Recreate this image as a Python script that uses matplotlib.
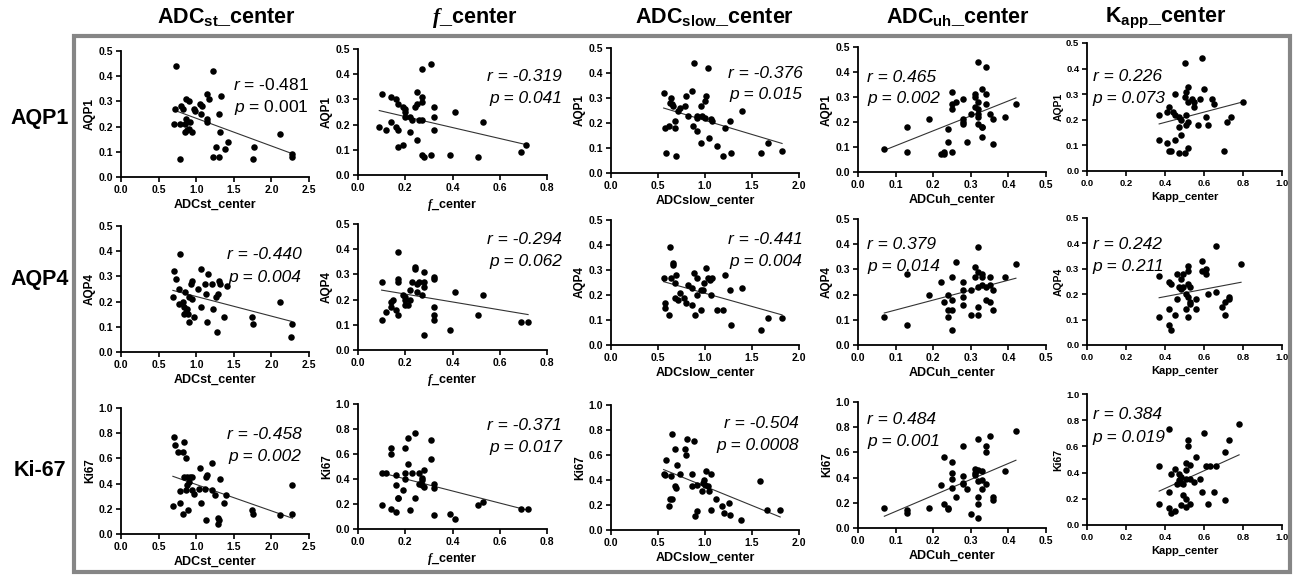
import matplotlib
matplotlib.use("Agg")
import matplotlib.pyplot as plt
import numpy as np
from matplotlib.patches import Rectangle

plt.rcParams['font.family'] = ['Liberation Sans Narrow', 'Liberation Sans', 'DejaVu Sans']
plt.rcParams['mathtext.fontset'] = 'custom'
plt.rcParams['mathtext.rm'] = 'Liberation Sans:bold'
plt.rcParams['mathtext.it'] = 'Liberation Serif:italic:bold'
plt.rcParams['mathtext.sf'] = 'Liberation Sans:italic'

# ---- data ----
row_names = ['AQP1', 'AQP4', 'Ki67']
row_titles = ['AQP1', 'AQP4', 'Ki-67']

r_vals = [['-0.481', '-0.319', '-0.376', '0.465', '0.226'],
          ['-0.440', '-0.294', '-0.441', '0.379', '0.242'],
          ['-0.458', '-0.371', '-0.504', '0.484', '0.384']]
p_vals = [['0.001', '0.041', '0.015', '0.002', '0.073'],
          ['0.004', '0.062', '0.004', '0.014', '0.211'],
          ['0.002', '0.017', '0.0008', '0.001', '0.019']]

# ADCst_center
adcst_aqp1_x = [0.73, 1.23, 0.72, 0.80, 0.83, 0.87, 0.91, 0.98, 0.97, 1.05, 1.08, 1.14, 1.17, 1.33, 1.30, 1.06, 1.14, 1.14, 0.71, 0.78,
                0.85, 0.86, 0.92, 0.85, 0.90, 0.95, 0.88, 1.31, 1.26, 1.42, 1.38, 1.23, 1.30, 0.78, 1.77, 1.75, 2.12, 2.28, 2.27]
adcst_aqp1_y = [0.44, 0.42, 0.27, 0.28, 0.27, 0.31, 0.30, 0.26, 0.27, 0.29, 0.28, 0.33, 0.31, 0.32, 0.25, 0.25, 0.23, 0.22, 0.21, 0.21,
                0.21, 0.23, 0.22, 0.18, 0.19, 0.18, 0.185, 0.18, 0.12, 0.14, 0.11, 0.08, 0.08, 0.07, 0.12, 0.07, 0.17, 0.09, 0.08]
adcst_aqp4_x = [0.78, 0.70, 0.73, 0.69, 0.77, 0.77, 0.83, 0.85, 0.84, 0.86, 0.84, 0.88, 0.89, 0.91, 0.95, 0.93, 0.95, 0.90, 0.97, 1.03,
                1.07, 1.06, 1.12, 1.16, 1.13, 1.14, 1.21, 1.22, 1.26, 1.29, 1.30, 1.32, 1.41, 1.37, 1.28, 1.74, 1.76, 2.11, 2.27, 2.26]
adcst_aqp4_y = [0.39, 0.32, 0.29, 0.22, 0.25, 0.19, 0.20, 0.24, 0.18, 0.16, 0.15, 0.17, 0.15, 0.22, 0.21, 0.27, 0.28, 0.12, 0.14, 0.25,
                0.33, 0.18, 0.27, 0.31, 0.23, 0.12, 0.27, 0.17, 0.22, 0.23, 0.28, 0.27, 0.26, 0.14, 0.08, 0.14, 0.11, 0.20, 0.11, 0.06]
adcst_ki67_x = [0.70, 0.72, 0.76, 0.82, 0.84, 0.86, 0.84, 0.88, 0.92, 0.95, 0.90, 0.88, 0.87, 0.78, 0.94, 0.97, 1.04, 1.05, 1.13, 1.15,
                1.21, 1.32, 1.12, 1.21, 1.25, 1.40, 1.37, 1.07, 0.69, 0.78, 0.89, 0.83, 1.13, 1.29, 1.30, 1.29, 1.74, 1.76, 2.11, 2.27, 2.28]
adcst_ki67_y = [0.77, 0.71, 0.65, 0.65, 0.73, 0.60, 0.45, 0.45, 0.45, 0.45, 0.41, 0.39, 0.35, 0.34, 0.35, 0.32, 0.36, 0.52, 0.45, 0.47,
                0.56, 0.44, 0.36, 0.35, 0.31, 0.31, 0.25, 0.25, 0.22, 0.25, 0.19, 0.16, 0.11, 0.13, 0.11, 0.08, 0.19, 0.16, 0.15, 0.39, 0.16]

# f_center
f_aqp1_x = [0.31, 0.27, 0.10, 0.14, 0.16, 0.17, 0.19, 0.20, 0.20, 0.25, 0.24, 0.25, 0.27, 0.27, 0.32, 0.41, 0.20, 0.22, 0.23, 0.26,
            0.27, 0.32, 0.09, 0.12, 0.16, 0.17, 0.14, 0.22, 0.32, 0.53, 0.25, 0.19, 0.17, 0.27, 0.28, 0.31, 0.39, 0.51, 0.69, 0.71]
f_aqp1_y = [0.44, 0.42, 0.32, 0.31, 0.30, 0.28, 0.27, 0.26, 0.25, 0.28, 0.27, 0.33, 0.31, 0.29, 0.27, 0.25, 0.23, 0.23, 0.22, 0.22,
            0.22, 0.23, 0.19, 0.18, 0.19, 0.18, 0.21, 0.17, 0.18, 0.21, 0.14, 0.12, 0.11, 0.08, 0.07, 0.08, 0.08, 0.07, 0.09, 0.12]
f_aqp4_x = [0.17, 0.24, 0.24, 0.28, 0.32, 0.32, 0.17, 0.17, 0.10, 0.23, 0.26, 0.28, 0.25, 0.28, 0.22, 0.25, 0.27, 0.41, 0.53, 0.19,
            0.20, 0.20, 0.20, 0.22, 0.15, 0.14, 0.16, 0.12, 0.14, 0.17, 0.10, 0.32, 0.32, 0.32, 0.51, 0.39, 0.28, 0.69, 0.72, 0.21]
f_aqp4_y = [0.39, 0.33, 0.32, 0.31, 0.29, 0.28, 0.28, 0.27, 0.27, 0.27, 0.27, 0.27, 0.26, 0.25, 0.24, 0.23, 0.22, 0.23, 0.22, 0.22,
            0.21, 0.20, 0.18, 0.20, 0.20, 0.19, 0.16, 0.15, 0.17, 0.14, 0.12, 0.17, 0.14, 0.12, 0.14, 0.08, 0.06, 0.11, 0.11, 0.18]
f_ki67_x = [0.24, 0.21, 0.31, 0.14, 0.14, 0.20, 0.31, 0.21, 0.10, 0.12, 0.16, 0.20, 0.23, 0.26, 0.28, 0.20, 0.27, 0.27, 0.26, 0.27,
            0.28, 0.32, 0.32, 0.16, 0.19, 0.17, 0.17, 0.24, 0.10, 0.14, 0.16, 0.22, 0.32, 0.39, 0.41, 0.51, 0.53, 0.69, 0.72]
f_ki67_y = [0.77, 0.73, 0.71, 0.65, 0.60, 0.65, 0.56, 0.52, 0.45, 0.45, 0.43, 0.45, 0.45, 0.45, 0.47, 0.40, 0.41, 0.39, 0.36, 0.35,
            0.34, 0.36, 0.33, 0.35, 0.31, 0.25, 0.25, 0.25, 0.19, 0.16, 0.14, 0.15, 0.11, 0.12, 0.08, 0.19, 0.22, 0.16, 0.16]

# ADCslow_center
slow_aqp1_x = [0.88, 1.03, 0.56, 0.64, 0.63, 0.65, 0.66, 0.71, 0.73, 0.80, 0.86, 0.79, 0.82, 0.91, 0.92, 0.96, 1.00, 1.01, 0.97, 1.00,
               1.06, 1.07, 0.57, 0.62, 0.68, 0.68, 0.87, 0.92, 1.27, 1.21, 1.39, 0.96, 1.04, 1.13, 0.58, 0.69, 1.19, 1.28, 1.60, 1.67, 1.82]
slow_aqp1_y = [0.44, 0.42, 0.32, 0.30, 0.28, 0.275, 0.27, 0.25, 0.26, 0.31, 0.33, 0.27, 0.23, 0.23, 0.22, 0.27, 0.29, 0.31, 0.23, 0.22,
               0.215, 0.21, 0.18, 0.19, 0.21, 0.18, 0.19, 0.17, 0.21, 0.18, 0.25, 0.12, 0.14, 0.11, 0.08, 0.07, 0.07, 0.08, 0.08, 0.12, 0.09]
slow_aqp4_x = [0.63, 0.66, 0.66, 0.56, 0.64, 0.69, 0.68, 0.57, 0.57, 0.62, 0.68, 0.71, 0.73, 0.78, 0.80, 0.82, 0.86, 0.88, 0.91, 0.86,
               0.92, 0.89, 0.96, 0.98, 0.99, 1.01, 1.03, 1.05, 1.07, 1.06, 0.96, 1.13, 1.19, 1.21, 1.27, 1.39, 1.28, 1.60, 1.67, 1.82]
slow_aqp4_y = [0.39, 0.33, 0.32, 0.27, 0.27, 0.28, 0.25, 0.17, 0.15, 0.12, 0.19, 0.18, 0.21, 0.19, 0.17, 0.24, 0.23, 0.29, 0.27, 0.16,
               0.20, 0.12, 0.22, 0.22, 0.25, 0.31, 0.27, 0.26, 0.27, 0.20, 0.14, 0.14, 0.14, 0.28, 0.22, 0.23, 0.08, 0.06, 0.11, 0.11]
slow_ki67_x = [0.65, 0.81, 0.88, 0.68, 0.79, 0.80, 0.58, 0.70, 0.56, 0.57, 0.73, 0.64, 0.86, 0.68, 0.69, 0.86, 0.91, 0.97, 0.98, 0.99,
               1.01, 1.06, 1.00, 1.03, 1.04, 0.63, 0.65, 0.62, 1.12, 1.18, 1.26, 0.91, 0.89, 1.06, 1.20, 1.27, 1.38, 1.59, 1.66, 1.80]
slow_ki67_y = [0.77, 0.73, 0.71, 0.65, 0.65, 0.60, 0.56, 0.52, 0.45, 0.44, 0.45, 0.43, 0.45, 0.35, 0.34, 0.35, 0.36, 0.31, 0.38, 0.40,
               0.47, 0.45, 0.36, 0.35, 0.31, 0.25, 0.25, 0.19, 0.25, 0.19, 0.22, 0.15, 0.11, 0.16, 0.14, 0.12, 0.08, 0.39, 0.16, 0.16]

# ADCuh_center
uh_aqp1_x = [0.32, 0.34, 0.07, 0.13, 0.13, 0.19, 0.22, 0.23, 0.23, 0.25, 0.24, 0.24, 0.25, 0.25, 0.25, 0.26, 0.28, 0.28, 0.28, 0.28,
             0.29, 0.30, 0.31, 0.31, 0.31, 0.32, 0.32, 0.32, 0.32, 0.32, 0.33, 0.33, 0.33, 0.33, 0.34, 0.34, 0.35, 0.36, 0.36, 0.39, 0.42]
uh_aqp1_y = [0.44, 0.42, 0.09, 0.18, 0.08, 0.21, 0.07, 0.07, 0.08, 0.08, 0.12, 0.17, 0.25, 0.27, 0.32, 0.28, 0.29, 0.21, 0.20, 0.19,
             0.12, 0.23, 0.31, 0.30, 0.26, 0.25, 0.28, 0.23, 0.22, 0.19, 0.18, 0.18, 0.14, 0.33, 0.31, 0.27, 0.23, 0.21, 0.11, 0.22, 0.27]
uh_aqp4_x = [0.07, 0.13, 0.13, 0.19, 0.22, 0.24, 0.24, 0.24, 0.25, 0.25, 0.25, 0.25, 0.23, 0.26, 0.28, 0.28, 0.28, 0.28, 0.30, 0.30,
             0.31, 0.31, 0.32, 0.32, 0.32, 0.32, 0.32, 0.33, 0.33, 0.33, 0.34, 0.34, 0.35, 0.35, 0.36, 0.36, 0.39, 0.42, 0.35]
uh_aqp4_y = [0.11, 0.28, 0.08, 0.20, 0.25, 0.14, 0.11, 0.20, 0.27, 0.18, 0.14, 0.06, 0.17, 0.33, 0.25, 0.22, 0.19, 0.16, 0.22, 0.12,
             0.31, 0.27, 0.39, 0.29, 0.23, 0.15, 0.12, 0.28, 0.24, 0.27, 0.18, 0.23, 0.17, 0.24, 0.22, 0.14, 0.27, 0.32, 0.27]
uh_ki67_x = [0.07, 0.13, 0.13, 0.19, 0.22, 0.23, 0.23, 0.24, 0.24, 0.25, 0.25, 0.25, 0.25, 0.26, 0.28, 0.28, 0.28, 0.28, 0.29, 0.30,
             0.31, 0.31, 0.31, 0.32, 0.32, 0.32, 0.32, 0.32, 0.32, 0.33, 0.33, 0.33, 0.34, 0.34, 0.34, 0.35, 0.36, 0.36, 0.39, 0.42]
uh_ki67_y = [0.16, 0.14, 0.12, 0.16, 0.34, 0.56, 0.19, 0.16, 0.15, 0.52, 0.44, 0.39, 0.32, 0.25, 0.65, 0.41, 0.36, 0.35, 0.31, 0.11,
             0.47, 0.44, 0.42, 0.71, 0.37, 0.25, 0.19, 0.08, 0.46, 0.38, 0.45, 0.31, 0.35, 0.65, 0.60, 0.73, 0.25, 0.22, 0.45, 0.77]

# Kapp_center
kapp_aqp1_x = [0.59, 0.50, 0.60, 0.52, 0.51, 0.45, 0.50, 0.54, 0.52, 0.58, 0.55, 0.55, 0.64, 0.65, 0.80, 0.42, 0.41, 0.44, 0.45, 0.37,
               0.47, 0.48, 0.51, 0.61, 0.72, 0.74, 0.51, 0.52, 0.57, 0.62, 0.47, 0.48, 0.37, 0.41, 0.45, 0.42, 0.43, 0.47, 0.50, 0.52, 0.70]
kapp_aqp1_y = [0.44, 0.42, 0.32, 0.33, 0.31, 0.30, 0.29, 0.28, 0.27, 0.28, 0.27, 0.25, 0.28, 0.26, 0.27, 0.25, 0.23, 0.23, 0.22, 0.22,
               0.21, 0.20, 0.22, 0.21, 0.19, 0.21, 0.18, 0.19, 0.18, 0.18, 0.17, 0.14, 0.12, 0.11, 0.12, 0.08, 0.08, 0.07, 0.07, 0.09, 0.08]
kapp_aqp4_x = [0.66, 0.37, 0.42, 0.43, 0.46, 0.48, 0.49, 0.52, 0.52, 0.59, 0.59, 0.61, 0.61, 0.79, 0.47, 0.49, 0.52, 0.53, 0.51, 0.46,
               0.52, 0.53, 0.53, 0.52, 0.56, 0.62, 0.66, 0.69, 0.73, 0.71, 0.71, 0.56, 0.51, 0.48, 0.42, 0.45, 0.37, 0.42, 0.43, 0.73]
kapp_aqp4_y = [0.39, 0.27, 0.25, 0.24, 0.28, 0.26, 0.28, 0.31, 0.29, 0.33, 0.29, 0.30, 0.28, 0.32, 0.23, 0.23, 0.24, 0.23, 0.20, 0.18,
               0.19, 0.17, 0.16, 0.11, 0.18, 0.20, 0.21, 0.15, 0.18, 0.17, 0.12, 0.14, 0.14, 0.22, 0.14, 0.12, 0.11, 0.08, 0.06, 0.19]
kapp_ki67_x = [0.78, 0.73, 0.71, 0.60, 0.42, 0.52, 0.52, 0.56, 0.37, 0.45, 0.51, 0.53, 0.51, 0.61, 0.63, 0.66, 0.43, 0.47, 0.48, 0.47,
               0.48, 0.46, 0.49, 0.51, 0.53, 0.55, 0.58, 0.59, 0.65, 0.42, 0.37, 0.42, 0.43, 0.45, 0.48, 0.49, 0.51, 0.51, 0.53, 0.62, 0.71]
kapp_ki67_y = [0.77, 0.65, 0.56, 0.70, 0.73, 0.65, 0.60, 0.52, 0.45, 0.43, 0.47, 0.46, 0.42, 0.45, 0.45, 0.45, 0.39, 0.39, 0.37, 0.34,
               0.32, 0.31, 0.31, 0.35, 0.35, 0.33, 0.35, 0.25, 0.25, 0.25, 0.16, 0.13, 0.09, 0.11, 0.15, 0.23, 0.20, 0.14, 0.16, 0.16, 0.19]

xs = [[adcst_aqp1_x, f_aqp1_x, slow_aqp1_x, uh_aqp1_x, kapp_aqp1_x],
      [adcst_aqp4_x, f_aqp4_x, slow_aqp4_x, uh_aqp4_x, kapp_aqp4_x],
      [adcst_ki67_x, f_ki67_x, slow_ki67_x, uh_ki67_x, kapp_ki67_x]]
ys = [[adcst_aqp1_y, f_aqp1_y, slow_aqp1_y, uh_aqp1_y, kapp_aqp1_y],
      [adcst_aqp4_y, f_aqp4_y, slow_aqp4_y, uh_aqp4_y, kapp_aqp4_y],
      [adcst_ki67_y, f_ki67_y, slow_ki67_y, uh_ki67_y, kapp_ki67_y]]

# axis ranges / ticks per column and row
x_max = [2.5, 0.8, 2.0, 0.5, 1.0]
x_step = [0.5, 0.2, 0.5, 0.1, 0.2]
y_max = [0.5, 0.5, 1.0]
y_step = [0.1, 0.1, 0.2]

# ---- layout (pixels of the 1295x577 picture) ----
W, H = 1295, 577
fig = plt.figure(figsize=(W / 100, H / 100), dpi=100)

col_left = [121, 358, 611, 858, 1087]
col_w = [188, 189, 188, 188, 195]
# (top, bottom) of every panel, in pixels from the top
panel_tb = [[(51, 177), (49, 175), (48, 173), (47, 172), (43, 171)],
            [(226, 352), (224, 350), (220, 345), (219, 345), (218, 345)],
            [(408, 534), (404, 529), (405, 530), (402, 528), (394, 525)]]

# where the r/p text goes (axes fraction), and alignment
txt_pos = [[(1.0, 0.73, 'right'), (1.08, 0.78, 'right'), (1.02, 0.80, 'right'), (0.05, 0.76, 'left'), (0.03, 0.74, 'left')],
           [(0.96, 0.77, 'right'), (1.08, 0.88, 'right'), (1.02, 0.84, 'right'), (0.05, 0.80, 'left'), (0.03, 0.79, 'left')],
           [(0.96, 0.79, 'right'), (1.08, 0.83, 'right'), (1.0, 0.85, 'right'), (0.05, 0.86, 'left'), (0.03, 0.84, 'left')]]

xlabels = ['ADCst_center', r'$\mathit{f}$_center', 'ADCslow_center', 'ADCuh_center', 'Kapp_center']
txt_family = ['Liberation Sans', 'DejaVu Sans']

for i in range(3):
    for j in range(5):
        top, bot = panel_tb[i][j]
        ax = fig.add_axes([col_left[j] / W, 1 - bot / H, col_w[j] / W, (bot - top) / H])
        x = np.array(xs[i][j])
        y = np.array(ys[i][j])
        ax.scatter(x, y, s=22, color='black', zorder=3, linewidths=0)
        k, b = np.polyfit(x, y, 1)
        xx = np.array([x.min(), x.max()])
        ax.plot(xx, k * xx + b, color='#333333', lw=0.8, zorder=2)

        small = (j == 4)
        tfs = 6.8 if small else 7.5
        ax.set_xlim(0, x_max[j])
        ax.set_ylim(0, y_max[i])
        ax.set_xticks(np.arange(0, x_max[j] + 1e-9, x_step[j]))
        ax.set_yticks(np.arange(0, y_max[i] + 1e-9, y_step[i]))
        ax.set_xticklabels(['%.1f' % v for v in ax.get_xticks()], fontsize=tfs, fontweight='bold')
        ax.set_yticklabels(['%.1f' % v for v in ax.get_yticks()], fontsize=tfs, fontweight='bold')
        for s in ['top', 'right']:
            ax.spines[s].set_visible(False)
        for s in ['left', 'bottom']:
            ax.spines[s].set_linewidth(1.3)
        ax.tick_params(direction='out', length=3.5, width=1.2, pad=2)
        ax.set_xlabel(xlabels[j], fontsize=8 if small else 9, fontweight='bold', labelpad=3)
        ax.set_ylabel(row_names[i], fontsize=7.5 if small else 8.5, fontweight='bold', labelpad=2)

        tx, ty, ha = txt_pos[i][j]
        if i == 0 and j == 0:
            rt = r'$\mathsf{r}$ = ' + r_vals[i][j]
            pt = r'$\mathsf{p}$ = ' + p_vals[i][j]
            style = 'normal'
        else:
            rt = 'r = ' + r_vals[i][j]
            pt = 'p = ' + p_vals[i][j]
            style = 'italic'
        ax.text(tx, ty, rt, transform=ax.transAxes, ha=ha, va='center', fontsize=12.5,
                fontstyle=style, family=txt_family, zorder=4)
        ax.text(tx, ty - 0.175, pt, transform=ax.transAxes, ha=ha, va='center', fontsize=12.5,
                fontstyle=style, family=txt_family, zorder=4)

# column titles
col_titles = [r'ADC$\mathrm{_{st}}$_center', r'$\mathit{f}$_center', r'ADC$\mathrm{_{slow}}$_center',
              r'ADC$\mathrm{_{uh}}$_center', r'K$\mathrm{_{app}}$_center']
title_x = [226, 475, 715, 958, 1166]
for t, cx in zip(col_titles, title_x):
    fig.text(cx / W, 1 - 18 / H, t, ha='center', va='center', fontsize=15.5, fontweight='bold',
             family=txt_family)

# row titles
row_y = [118, 280, 470]
for t, cy in zip(row_titles, row_y):
    fig.text(40 / W, 1 - cy / H, t, ha='center', va='center', fontsize=15.5, fontweight='bold',
             family=txt_family)

# gray frame
fig.patches.append(Rectangle((74 / W, 1 - 572 / H), (1290 - 74) / W, (572 - 36) / H,
                             transform=fig.transFigure, fill=False, edgecolor='#868686', lw=3))

fig.savefig('out.png', dpi=100)
